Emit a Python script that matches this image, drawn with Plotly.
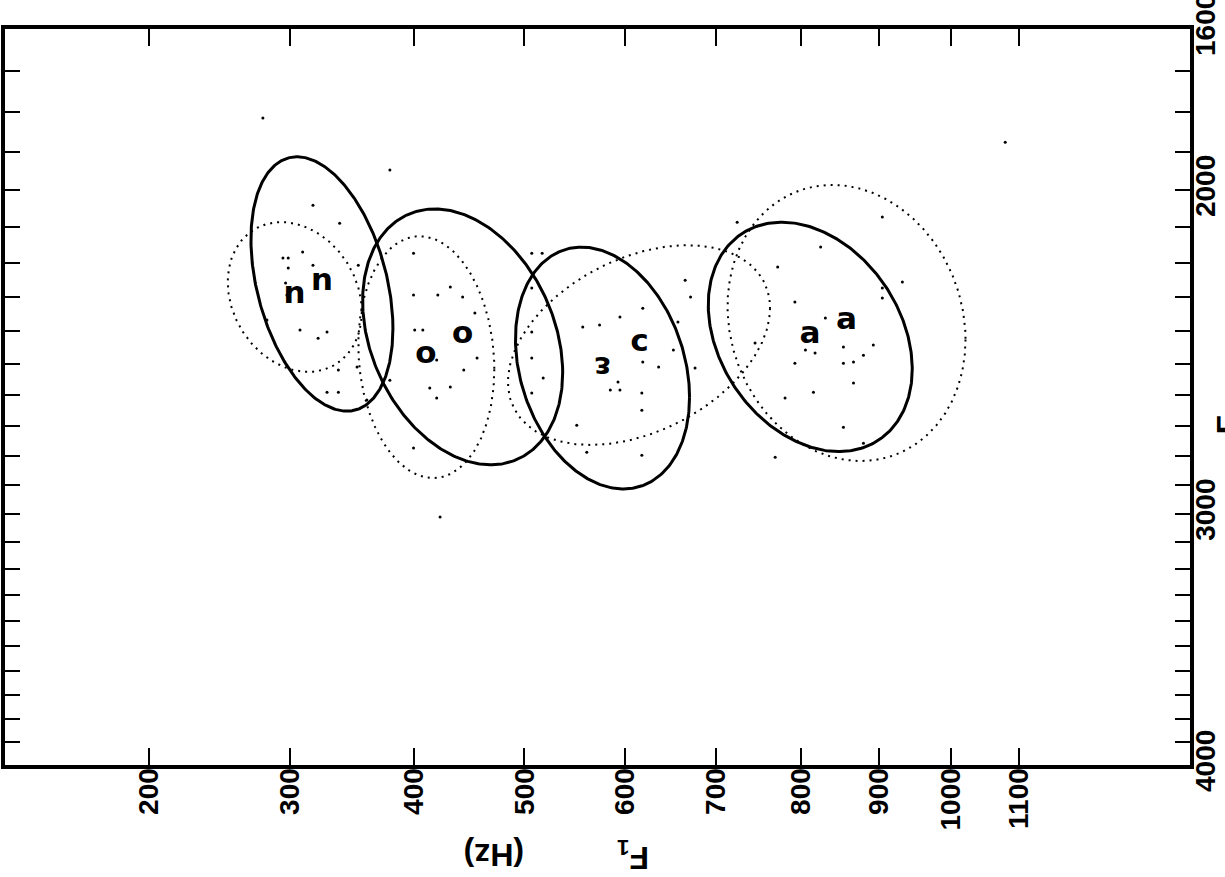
import numpy as np
import plotly.graph_objects as go


def warp(f, c):
    """Warped frequency scale: 1000 * log2(1 + f/c)."""
    return 1000.0 * np.log2(1.0 + np.asarray(f, dtype=float) / c)


C_F1 = 500.0    # F1 axis bend frequency
C_F2 = 1000.0   # F2 axis bend frequency (Fant's mel)


def w1(f):
    return warp(f, C_F1)


def w2(f):
    return warp(f, C_F2)


# ---- vowel ellipses (centre in Hz, spread in scale units, F1/F2 correlation) ----
vowel_label = ["u", "u", "o", "o", "ɛ", "ɔ", "ɐ", "ɐ"]
line_style = ["solid", "dotted", "solid", "dotted", "solid", "dotted", "solid", "dotted"]
f1_center = [325, 304, 443, 411, 577, 615, 812, 858]
f2_center = [2261, 2299, 2418, 2480, 2514, 2443, 2418, 2376]
f1_spread = [97.3, 91.9, 137.1, 93.2, 119.3, 179.6, 139.8, 163.1]
f2_spread = [163, 96, 164, 155, 155, 128, 147, 177]
rho = [0.35, 0.20, 0.28, 0.10, 0.24, -0.37, 0.28, 0.12]

# ---- individual tokens (F1, F2 in Hz) ----
f1_tokens = [
    318, 339, 310, 295, 299, 318, 299, 297, 298, 308, 329, 322, 283, 329, 338, 361, 353, 338, 354, 380,
    400, 400, 421, 432, 443, 454, 401, 408, 420, 444, 456, 414, 432, 420, 400, 380, 423,
    507, 517, 507, 507, 507, 518, 507, 551, 561, 557, 574, 595, 619, 652, 636, 619, 593, 585, 595,
    618, 618, 618, 665, 671, 657, 676, 724,
    825, 772, 793, 831, 905, 905, 932, 905, 806, 818, 793, 854, 854, 867, 880, 893, 867, 816, 781,
    854, 880, 769, 745,
    280, 1079,
]
f2_tokens = [
    2041, 2090, 2170, 2187, 2187, 2207, 2215, 2258, 2293, 2397, 2403, 2422, 2367, 2590, 2590, 2615, 2511, 2520, 2207, 1947,
    2173, 2293, 2293, 2270, 2299, 2346, 2397, 2397, 2489, 2520, 2483, 2577, 2574, 2609, 2773, 2552, 3011,
    2173, 2173, 2273, 2403, 2483, 2545, 2593, 2697, 2787, 2388, 2382, 2358, 2332, 2458, 2511, 2495, 2558, 2583, 2583,
    2593, 2648, 2797, 2250, 2299, 2373, 2514, 2087,
    2156, 2212, 2314, 2361, 2273, 2302, 2255, 2073, 2458, 2467, 2499, 2449, 2499, 2495, 2474, 2443, 2561, 2590, 2609,
    2704, 2757, 2804, 2437,
    1814, 1875,
]

# ---- axes ----
f1_ticks = [200, 300, 400, 500, 600, 700, 800, 900, 1000, 1100]
f2_ticks = list(range(1600, 4001, 100))
f2_labelled = [1600, 2000, 3000, 4000]
f1_limits = [110.5, 1382]
f2_limits = [1600, 4000]

fig = go.Figure()

t = np.linspace(0, 2 * np.pi, 361)
for i in range(len(vowel_label)):
    cx, cy = w1(f1_center[i]), w2(f2_center[i])
    x = cx + f1_spread[i] * np.cos(t)
    y = cy + f2_spread[i] * (rho[i] * np.cos(t) + np.sqrt(1 - rho[i] ** 2) * np.sin(t))
    if line_style[i] == "solid":
        line = dict(color="black", width=3)
    else:
        line = dict(color="black", width=2, dash="2px,5px")
    fig.add_trace(go.Scatter(x=x, y=y, mode="lines", line=line, hoverinfo="skip", showlegend=False))

fig.add_trace(go.Scatter(
    x=w1(f1_tokens), y=w2(f2_tokens), mode="markers",
    marker=dict(size=3, color="black"), showlegend=False, hoverinfo="skip",
))

for i, lab in enumerate(vowel_label):
    fig.add_annotation(
        x=float(w1(f1_center[i])), y=float(w2(f2_center[i])), xref="x", yref="y",
        text=lab, showarrow=False, textangle=180,
        xanchor="center", yanchor="middle",
        font=dict(family="DejaVu Sans", size=31, color="black", weight="bold"),
    )

# axis titles (F1 below, F2 running off the right-hand edge)
title_font = dict(family="Liberation Sans, Arial", size=32, color="black", weight="bold")
fig.add_annotation(xref="paper", yref="paper", x=0.530, y=-0.122, text="F<sub>1</sub>",
                   xanchor="center", yanchor="middle",
                   showarrow=False, textangle=180, font=title_font)
fig.add_annotation(xref="paper", yref="paper", x=0.4127, y=-0.122, text="(Hz)",
                   xanchor="center", yanchor="middle",
                   showarrow=False, textangle=180, font=title_font)
fig.add_annotation(xref="paper", yref="paper", x=1.0152, y=0.47, text="F<sub>2</sub>",
                   xanchor="left", yanchor="middle",
                   showarrow=False, textangle=-90, font=title_font)

tick_font = dict(family="Liberation Sans, Arial", size=28, color="black", weight="bold")
common = dict(
    showline=True, linewidth=4, linecolor="black", mirror="allticks",
    ticks="inside", tickcolor="black", tickwidth=2,
    showgrid=False, zeroline=False, tickangle=-90, tickfont=tick_font,
    automargin=False, ticklabeloverflow="allow",
)

fig.update_layout(
    width=1225, height=877,
    margin=dict(l=5, r=35, t=29, b=112),
    paper_bgcolor="white", plot_bgcolor="white",
    xaxis=dict(
        range=[float(w1(f1_limits[0])), float(w1(f1_limits[1]))],
        tickvals=[float(v) for v in w1(f1_ticks)],
        ticktext=[str(v) for v in f1_ticks],
        ticklen=17, ticklabelstandoff=-12, **common,
    ),
    yaxis=dict(
        range=[float(w2(f2_limits[1])) + 0.01, float(w2(f2_limits[0])) - 0.01],
        side="right",
        tickvals=[float(v) for v in w2(f2_ticks)],
        ticktext=[str(v) if v in f2_labelled else "" for v in f2_ticks],
        ticklen=15, ticklabelstandoff=-13, **common,
    ),
)

fig.write_html("out.html")
